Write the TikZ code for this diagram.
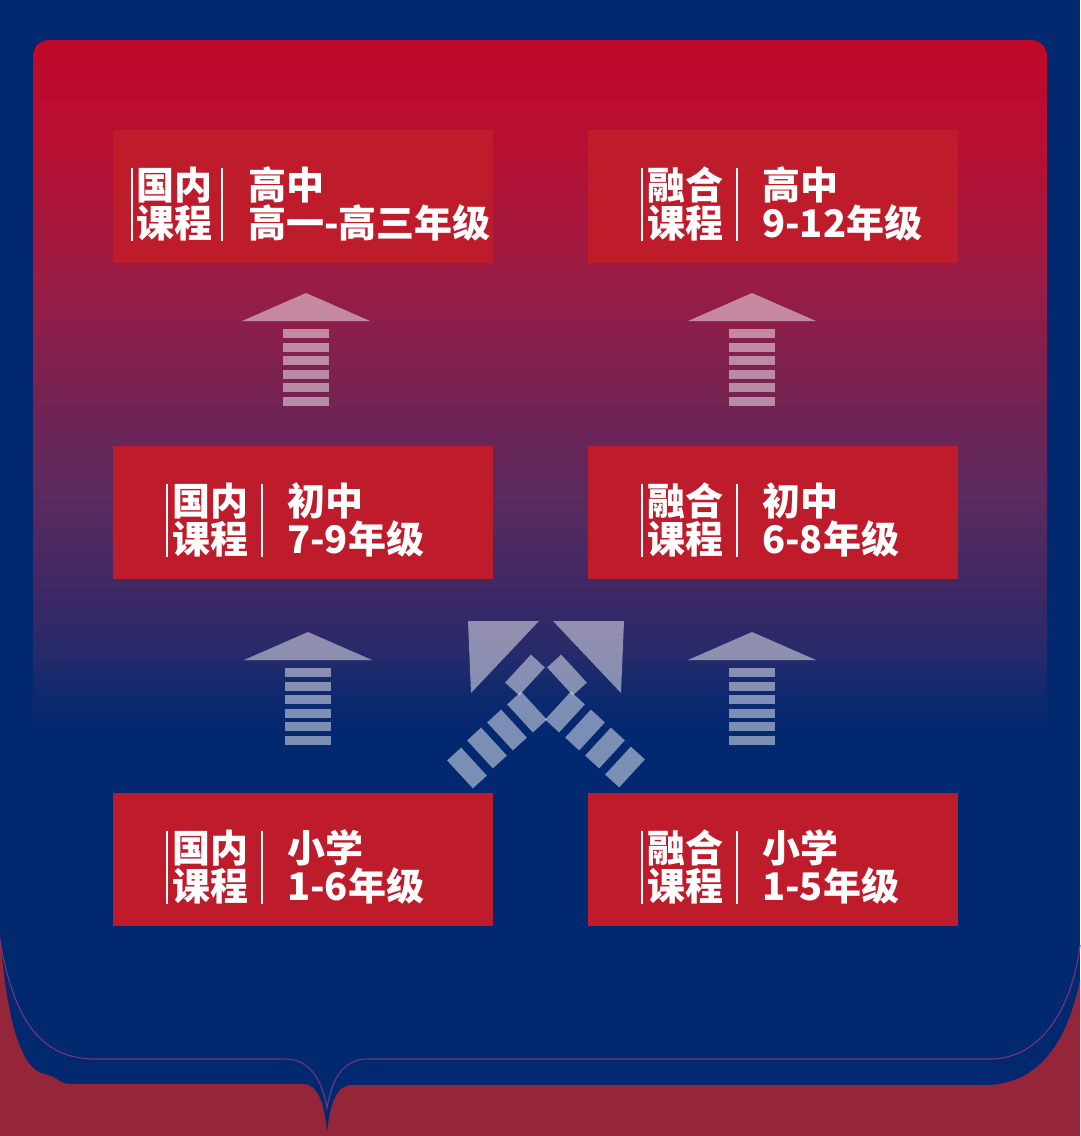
\documentclass[tikz,border=0pt]{standalone}
\usepackage{fontspec}
\newfontfamily\cjk{Noto Sans CJK SC}
\definecolor{bgblue}{RGB}{2,40,112}
\definecolor{bgred}{RGB}{149,38,58}
\definecolor{boxred}{RGB}{190,27,43}
\definecolor{thinline}{RGB}{112,56,124}
\definecolor{cA}{RGB}{193,8,42}
\definecolor{cB}{RGB}{182,16,50}
\definecolor{cC}{RGB}{154,28,69}
\definecolor{cD}{RGB}{110,36,86}
\definecolor{cE}{RGB}{90,42,95}
\definecolor{cF}{RGB}{58,40,101}
\definecolor{cG}{RGB}{40,42,106}
\definecolor{cH}{RGB}{12,41,111}
\pgfdeclareverticalshading{panelshade}{100bp}{%
 color(0bp)=(bgblue);
 color(34.59bp)=(bgblue);
 color(36.63bp)=(cH);
 color(39.53bp)=(cG);
 color(42.44bp)=(cF);
 color(48.26bp)=(cE);
 color(52.91bp)=(cD);
 color(61.05bp)=(cC);
 color(68.6bp)=(cB);
 color(75bp)=(cA);
 color(100bp)=(cA)}
\tikzset{
 box/.style={fill=boxred, draw=none, inner sep=0pt, anchor=north west, minimum height=133pt},
 lbl/.style={text=white, font=\cjk\bfseries\fontsize{38}{38}\selectfont, inner sep=0pt, anchor=base west},
 vbar/.style={draw=white, line width=2.2pt},
 arrowfill/.style={fill=white, fill opacity=0.48},
}
\newcommand\myuparrow[2]{%
 \fill[arrowfill] (#1,#2) -- (#1-64,#2+28) -- (#1+64,#2+28) -- cycle;
 \foreach \k in {0,...,5} {\fill[arrowfill] (#1-23,#2+36+13.5*\k) rectangle (#1+23,#2+45+13.5*\k);}
}
\newcommand\myxbar[3]{\fill[arrowfill, shift={(#1,#2)}, rotate=#3] (-19,-9.5) rectangle (19,9.5);}
\begin{document}
\begin{tikzpicture}[x=1pt,y=-1pt]
\useasboundingbox (0,0) rectangle (1080,1136);
\fill[bgblue] (0,0) rectangle (1080,1136);
% panel
\path[shading=panelshade, rounded corners=16pt] (33,40) rectangle (1047,900);
% bottom red band
\fill[bgred] (0,935) .. controls (6,1010) and (18,1068) .. (44,1074)
  .. controls (56,1076) and (60,1084) .. (70,1084) -- (303,1084)
  .. controls (318,1084) and (325,1105) .. (327,1133)
  .. controls (330,1105) and (336,1085) .. (352,1085) -- (985,1085)
  .. controls (1040,1085) and (1068,1040) .. (1080,980) -- (1080,1136) -- (0,1136) -- cycle;
% thin line
\draw[thinline, line width=1.1pt] (0,940) .. controls (12,1010) and (35,1059) .. (95,1059) -- (285,1059)
  .. controls (310,1059) and (322,1080) .. (327,1108)
  .. controls (332,1080) and (342,1059) .. (368,1059) -- (990,1059)
  .. controls (1040,1059) and (1072,1010) .. (1080,945);
% boxes
\node[box, minimum width=380pt] (b1) at (113,130) {};
\node[box, minimum width=370pt] (b2) at (588,130) {};
\node[box, minimum width=380pt] (b3) at (113,446) {};
\node[box, minimum width=370pt] (b4) at (588,446) {};
\node[box, minimum width=380pt] (b5) at (113,793) {};
\node[box, minimum width=370pt] (b6) at (588,793) {};
% row 1
\draw[vbar] (132,168) -- (132,241); \draw[vbar] (222,168) -- (222,241);
\node[lbl] (t1a) at (136,199) {国内};
\node[lbl] (t1b) at (136,237) {课程};
\node[lbl] (t1c) at (248,199) {高中};
\node[lbl] (t1d) at (248,237) {高一-高三年级};
\draw[vbar] (642,168) -- (642,241); \draw[vbar] (737,168) -- (737,241);
\node[lbl] (t2a) at (647,199) {融合};
\node[lbl] (t2b) at (647,237) {课程};
\node[lbl] (t2c) at (762,199) {高中};
\node[lbl] (t2d) at (762,237) {9-12年级};
% row 2
\draw[vbar] (167,484) -- (167,557); \draw[vbar] (262,484) -- (262,557);
\node[lbl] (t3a) at (172,515) {国内};
\node[lbl] (t3b) at (172,553) {课程};
\node[lbl] (t3c) at (287,515) {初中};
\node[lbl] (t3d) at (287,553) {7-9年级};
\draw[vbar] (642,484) -- (642,557); \draw[vbar] (737,484) -- (737,557);
\node[lbl] (t4a) at (647,515) {融合};
\node[lbl] (t4b) at (647,553) {课程};
\node[lbl] (t4c) at (762,515) {初中};
\node[lbl] (t4d) at (762,553) {6-8年级};
% row 3
\draw[vbar] (167,831) -- (167,904); \draw[vbar] (262,831) -- (262,904);
\node[lbl] (t5a) at (172,862) {国内};
\node[lbl] (t5b) at (172,900) {课程};
\node[lbl] (t5c) at (287,862) {小学};
\node[lbl] (t5d) at (287,900) {1-6年级};
\draw[vbar] (642,831) -- (642,904); \draw[vbar] (737,831) -- (737,904);
\node[lbl] (t6a) at (647,862) {融合};
\node[lbl] (t6b) at (647,900) {课程};
\node[lbl] (t6c) at (762,862) {小学};
\node[lbl] (t6d) at (762,900) {1-5年级};
% up arrows
\myuparrow{306}{293}
\myuparrow{752}{293}
\myuparrow{308}{632}
\myuparrow{752}{632}
% crossing arrows
\fill[arrowfill] (468,621) -- (539,621) -- (471,693) -- cycle;
\fill[arrowfill] (624,621) -- (553,621) -- (621,693) -- cycle;
\myxbar{525}{675}{47.4}
\myxbar{565}{712}{47.4}
\myxbar{585}{730}{47.4}
\myxbar{605}{748}{47.4}
\myxbar{625}{767}{47.4}
\myxbar{567}{675}{-47.4}
\myxbar{527}{712}{-47.4}
\myxbar{507}{730}{-47.4}
\myxbar{487}{748}{-47.4}
\myxbar{467}{768}{-47.4}
\end{tikzpicture}
\end{document}
